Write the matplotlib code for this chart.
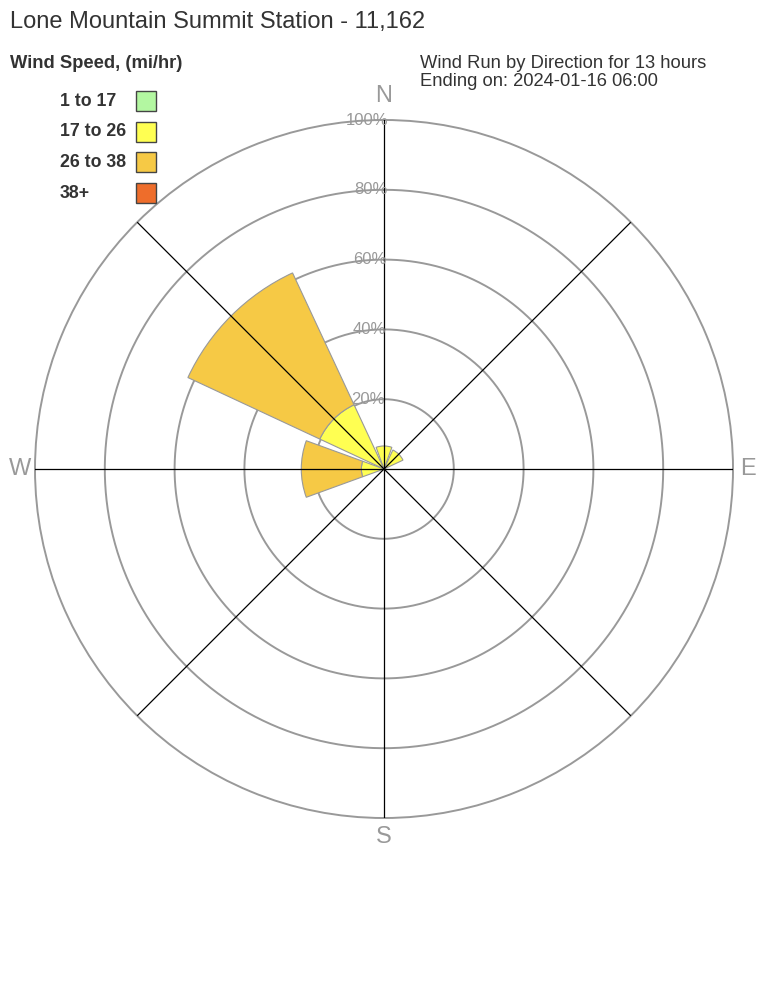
import numpy as np
import matplotlib.pyplot as plt

plt.rcParams['font.family'] = ['Liberation Sans', 'DejaVu Sans']

# wind run share (%) per direction, stacked by speed class
directions = ['N', 'NE', 'E', 'SE', 'S', 'SW', 'W', 'NW']
dir_deg = [0, 45, 90, 135, 180, 225, 270, 315]
speed_labels = ['1 to 17', '17 to 26', '26 to 38', '38+']
speed_colors = ['#b3f7a1', '#ffff52', '#f6c945', '#ee6d2b']
v_1_17 = [0, 0, 0, 0, 0, 0, 0, 0]
v_17_26 = [6.6, 6.0, 0, 0, 0, 0, 6.5, 20.3]
v_26_38 = [0, 0, 0, 0, 0, 0, 17.2, 41.7]
v_38p = [0, 0, 0, 0, 0, 0, 0, 0]
series = [v_1_17, v_17_26, v_26_38, v_38p]
rings = [20, 40, 60, 80, 100]

W, H = 768, 1008
fig = plt.figure(figsize=(W / 100, H / 100), dpi=100)
cx, cy, R = 384, 469, 349
ax = fig.add_axes([(cx - R) / W, 1 - (cy + R) / H, 2 * R / W, 2 * R / H], projection='polar')
ax.set_theta_zero_location('N')
ax.set_theta_direction(-1)
ax.set_ylim(0, 100)
ax.grid(False)
ax.set_xticks([])
ax.set_yticks([])
ax.spines['polar'].set_color('#999999')
ax.spines['polar'].set_linewidth(1.4)

t = np.linspace(0, 2 * np.pi, 400)
for r in rings[:-1]:
    ax.plot(t, np.full_like(t, r), color='#999999', lw=1.4, zorder=1)

theta = np.radians(dir_deg)
bottom = np.zeros(len(directions))
for vals, col in zip(series, speed_colors):
    vals = np.array(vals, dtype=float)
    mask = vals > 0
    ax.bar(theta[mask], vals[mask], width=np.radians(40), bottom=bottom[mask],
           color=col, edgecolor='#999999', linewidth=0.8, zorder=2)
    bottom += vals

for d in dir_deg:
    ax.plot([np.radians(d), np.radians(d)], [0, 100], color='black', lw=0.9, zorder=3)

for r in rings:
    ax.text(0.012, r, f'{r}%', ha='right', va='center', color='#999999', fontsize=12,
            zorder=4)

comp = [('N', cx, 96), ('E', 748, cy), ('S', cx, 837), ('W', 20, cy)]
for lab, x, y in comp:
    fig.text(x / W, 1 - y / H, lab, ha='center', va='center', color='#999999', fontsize=17)

fig.text(10 / W, 1 - 22 / H, 'Lone Mountain Summit Station - 11,162', ha='left', va='center',
         color='#333333', fontsize=17)
fig.text(10 / W, 1 - 63 / H, 'Wind Speed, (mi/hr)', ha='left', va='center',
         color='#333333', fontsize=13.2, fontweight='bold')
fig.text(420 / W, 1 - 63 / H, 'Wind Run by Direction for 13 hours', ha='left', va='center',
         color='#333333', fontsize=13.2)
fig.text(420 / W, 1 - 82 / H, 'Ending on: 2024-01-16 06:00', ha='left', va='center',
         color='#333333', fontsize=13.2)

for i, (lab, col) in enumerate(zip(speed_labels, speed_colors)):
    y = 101 + i * 30.7
    fig.text(60 / W, 1 - y / H, lab, ha='left', va='center', color='#333333',
             fontsize=12.8, fontweight='bold')
    fig.patches.append(plt.Rectangle((136 / W, 1 - (y + 10) / H), 20 / W, 20 / H,
                                     transform=fig.transFigure, facecolor=col,
                                     edgecolor='#444444', linewidth=1))

fig.savefig('out.png', dpi=100)
